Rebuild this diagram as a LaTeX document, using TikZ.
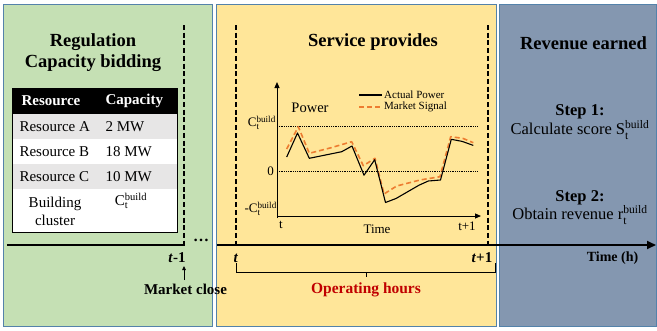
\documentclass[tikz,border=0pt]{standalone}
\usepackage{fontspec}
\setmainfont{Liberation Serif}
\usetikzlibrary{arrows.meta, positioning, calc}
\definecolor{pgreen}{RGB}{197,224,180}
\definecolor{pyellow}{RGB}{255,230,153}
\definecolor{pblue}{RGB}{132,151,176}
\definecolor{pborder}{RGB}{84,130,170}
\definecolor{rowgray}{RGB}{231,230,230}
\definecolor{sigorange}{RGB}{237,125,49}
\definecolor{opred}{RGB}{192,0,0}
\newcommand{\build}[1]{$\mathrm{#1}_{\mathrm{t}}^{\mathrm{build}}$}
\tikzset{
  ttl/.style={font=\fontsize{18.5}{21}\selectfont\bfseries},
  tab/.style={font=\fontsize{15}{18}\selectfont},
  stxt/.style={font=\fontsize{16.5}{19}\selectfont},
  tlab/.style={font=\fontsize{15}{17}\selectfont\bfseries},
  ax/.style={font=\fontsize{13}{15}\selectfont},
  vline/.style={line width=1.3pt, dash pattern=on 5pt off 2.7pt},
}

\begin{document}
\begin{tikzpicture}[x=1pt, y=-1pt]
\useasboundingbox (0,0) rectangle (657,330);
% panels
\filldraw[fill=pgreen,  draw=pborder, line width=1pt] (3,4) rectangle (212,326);
\filldraw[fill=pyellow, draw=pborder, line width=1pt] (216,4) rectangle (496,326);
\filldraw[fill=pblue,   draw=pborder, line width=1pt] (499,4) rectangle (656,326);

% left panel: bidding
\node[ttl, align=center] (bid) at (93,53) {Regulation\\Capacity bidding};

% table
\fill[white] (12,88) rectangle (177,232);
\fill[black] (12,88) rectangle (177,114);
\fill[rowgray] (12,114) rectangle (177,139);
\fill[rowgray] (12,164) rectangle (177,189);
\draw[black, line width=0.8pt] (12,88) rectangle (177,232);
\node[tab, white, font=\fontsize{15}{18}\selectfont\bfseries, anchor=west] (hres) at (18,101) {Resource};
\node[tab, white, font=\fontsize{15}{18}\selectfont\bfseries, anchor=west] (hcap) at (102,101) {Capacity};
\node[tab, anchor=west] (ra) at (16,126.5) {Resource A};
\node[tab, anchor=west] (ca) at (102,126.5) {2 MW};
\node[tab, anchor=west] (rb) at (16,151.5) {Resource B};
\node[tab, anchor=west] (cb) at (102,151.5) {18 MW};
\node[tab, anchor=west] (rc) at (16,176.5) {Resource C};
\node[tab, anchor=west] (cc) at (102,176.5) {10 MW};
\node[tab, align=center] (rbc) at (55,211) {Building\\cluster};
\node[tab] (cbc) at (131,201) {\build{C}};

% middle panel: service
\node[ttl] (svc) at (373,42) {Service provides};

% chart axes
\coordinate (yo) at (277,218);
\coordinate (ytop) at (277,82);
\coordinate (xo) at (277,216);
\coordinate (xend) at (481,216);
\draw[line width=1pt, -{Triangle[length=6pt,width=5pt]}] (yo) -- (ytop);
\draw[line width=1pt, -{Triangle[length=6pt,width=5pt]}] (xo) -- (xend);
\draw[densely dotted, line width=0.8pt] (277,126) -- (478,126);
\draw[densely dotted, line width=0.8pt] (277,171) -- (478,171);
\node[ax, anchor=east, inner sep=1pt] (cup) at (277,123) {\build{C}};
\node[ax, anchor=east, inner sep=1pt] (zero) at (275,171) {0};
\node[ax, anchor=east, inner sep=1pt] (cdn) at (278,209) {-\build{C}};
\node[ax] (xt) at (281,225) {t};
\node[ax] (xt1) at (467,226) {t+1};
\node[ax] (xtime) at (377,229) {Time};
\node[font=\fontsize{14.5}{16}\selectfont] (pow) at (310,108) {Power};

% legend
\draw[line width=1.1pt] (359,95) -- (382,95);
\node[font=\fontsize{11}{13}\selectfont, anchor=west, inner sep=1pt] (lga) at (383,95) {Actual Power};
\draw[sigorange, line width=1.6pt, dash pattern=on 5pt off 3pt] (359,107) -- (382,107);
\node[font=\fontsize{11}{13}\selectfont, anchor=west, inner sep=1pt] (lgm) at (383,107) {Market Signal};

% curves
\draw[sigorange, line width=1.6pt, dash pattern=on 5pt off 3pt, line join=round]
  plot coordinates {(286.7,149) (298.3,126.7) (309.3,153.3) (330,148) (351.7,141.7) (363.3,165.7)
  (375,158.3) (384,194) (396.7,186) (420,180) (440,176.7) (450.7,136.7) (462.7,138.3) (473.3,142.7)};
\draw[black, line width=1.1pt, line join=round]
  plot coordinates {(286.7,157) (297.5,133) (309.3,158.3) (341.7,151.7) (352,146) (364,175.2)
  (374.7,159.7) (385.5,202.5) (396,198.5) (419,185.2) (428.3,181) (440.5,180) (451.3,139.3)
  (462.2,141.4) (473.3,145.4)};

% time axis
\draw[line width=1.8pt] (7,245) -- (185,245);
\node[font=\fontsize{16}{18}\selectfont\bfseries] (gap) at (201,240) {\dots};
\draw[line width=1.8pt, -{Triangle[length=9pt,width=8pt]}] (217,245) -- (656,245);
\node[tlab, font=\fontsize{14}{16}\selectfont\bfseries] (axlab) at (612.5,258) {Time (h)};

% time marks
\draw[vline] (184,25) -- (184,245);
\draw[vline] (236,25) -- (236,245);
\draw[vline] (488,25) -- (488,245);
\node[tlab] (tm1) at (177,258) {\textit{t}-1};
\node[tlab] (t0) at (236,258) {\textit{t}};
\node[tlab] (tp1) at (482,258) {\textit{t}+1};

% market close
\node[tlab, font=\fontsize{15}{17}\selectfont\bfseries] (mc) at (185.5,289) {Market close};
\coordinate (mctop) at (184,266);
\draw[line width=0.8pt, -{Triangle[length=4pt,width=3.5pt]}] (mc.north -| mctop) -- (mctop);

% operating hours bracket
\draw[line width=0.8pt] (236,263) -- (236,272) -- (495,272) -- (495,263);
\coordinate (brmid) at (366,272);
\node[tlab, opred, font=\fontsize{15.5}{17}\selectfont\bfseries] (op) at (366,290) {Operating hours};
\draw[line width=0.8pt] (brmid) -- ++(0,5);

% right panel: revenue
\node[ttl] (rev) at (583.5,43) {Revenue earned};
\node[stxt, font=\fontsize{16.5}{19}\selectfont\bfseries] (s1) at (580,112) {Step 1:};
\node[stxt] (s1t) at (580,130) {Calculate score \build{S}};
\node[stxt, font=\fontsize{16.5}{19}\selectfont\bfseries] (s2) at (580,198) {Step 2:};
\node[stxt] (s2t) at (580,215) {Obtain revenue \build{r}};
\end{tikzpicture}
\end{document}
